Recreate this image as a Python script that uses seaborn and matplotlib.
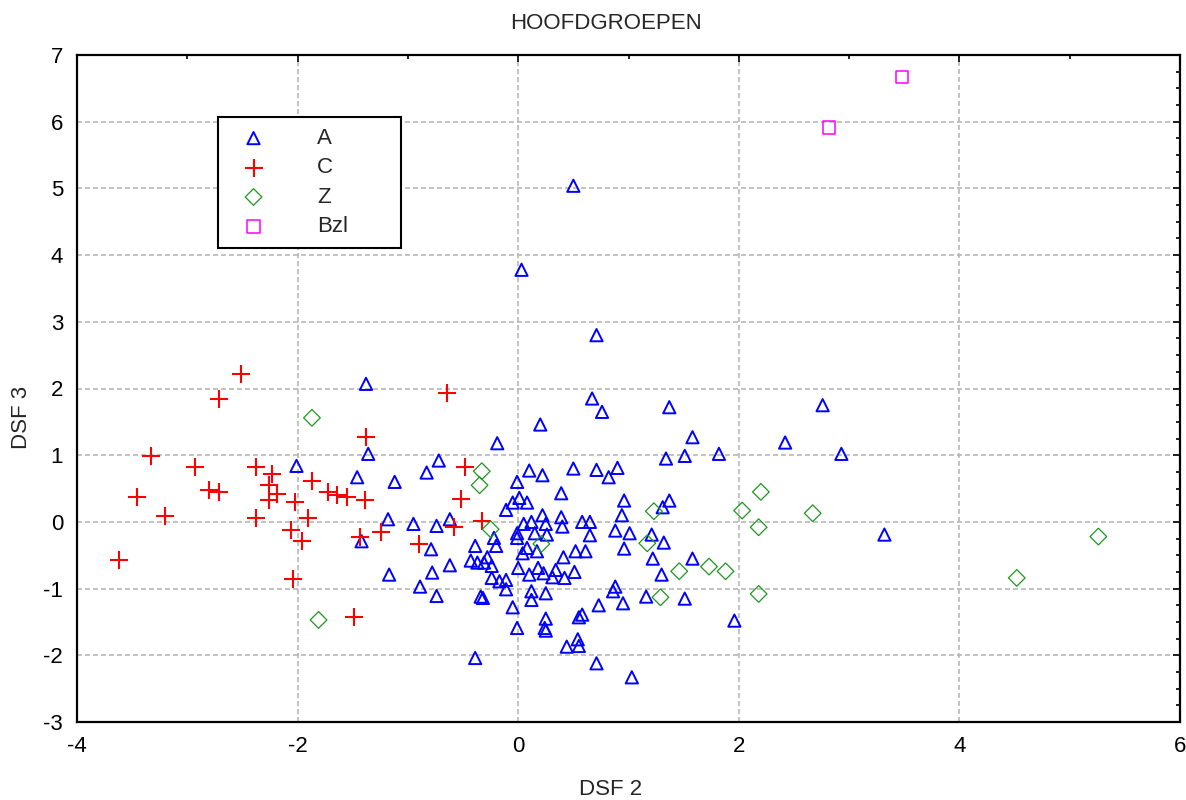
import matplotlib
matplotlib.use("Agg")
import matplotlib.pyplot as plt
from matplotlib.ticker import MultipleLocator
import seaborn as sns

# Group A (blue triangles)
a_x = [0.50, 0.03, 0.71, -1.38, 0.67, 0.76, 1.37, 2.76, 0.20, -0.19,
       1.58, 2.42, 2.93, 1.82, 1.51, 1.34, -1.36, -2.01, -1.46, -1.12,
       -0.72, -0.83, 0.90, 0.71, 0.50, 0.10, 0.22, 0.82, 0.96, 1.37,
       1.31, 0.39, -0.01, 3.32, 1.96, 0.94, 0.65, 0.88, 1.01, 0.65,
       1.21, 1.32, 0.96, 1.22, 1.58, 1.30, 0.88, 0.86, 0.73, 0.95,
       1.16, 1.51, 0.71, 1.03, 0.01, -0.05, 0.08, -0.11, 0.22, 0.39,
       0.12, 0.05, 0.25, 0.40, 0.58, -0.01, 0.15, 0.26, -0.01, -0.22,
       -0.20, -0.39, 0.08, 0.17, 0.04, -0.28, 0.41, 0.52, 0.61, -0.43,
       -0.37, -0.31, -0.24, 0.00, 0.18, 0.34, 0.51, 0.10, 0.23, 0.31,
       0.42, -0.24, -0.17, -0.11, -0.11, 0.12, 0.25, 0.12, -0.34, -0.32,
       -0.05, 0.58, 0.55, 0.25, 0.25, 0.24, -0.01, 0.54, 0.55, 0.44,
       -0.39, -1.18, -0.95, -0.74, -0.62, -1.42, -0.79, -0.62, -0.78, -1.17,
       -0.89, -0.74]
a_y = [5.04, 3.78, 2.80, 2.07, 1.85, 1.65, 1.72, 1.75, 1.46, 1.18,
       1.27, 1.19, 1.02, 1.02, 0.99, 0.95, 1.02, 0.84, 0.67, 0.60,
       0.92, 0.74, 0.81, 0.78, 0.80, 0.77, 0.70, 0.67, 0.32, 0.32,
       0.22, 0.43, 0.60, -0.19, -1.48, 0.10, 0.00, -0.13, -0.17, -0.20,
       -0.19, -0.31, -0.40, -0.55, -0.55, -0.79, -0.97, -1.04, -1.25, -1.22,
       -1.12, -1.15, -2.12, -2.33, 0.36, 0.29, 0.29, 0.18, 0.10, 0.07,
       0.00, -0.03, -0.03, -0.07, 0.00, -0.17, -0.17, -0.19, -0.24, -0.24,
       -0.36, -0.36, -0.39, -0.44, -0.47, -0.53, -0.53, -0.44, -0.44, -0.58,
       -0.61, -0.61, -0.66, -0.69, -0.69, -0.72, -0.75, -0.79, -0.77, -0.83,
       -0.84, -0.84, -0.89, -0.87, -1.01, -1.04, -1.07, -1.17, -1.12, -1.14,
       -1.28, -1.39, -1.43, -1.45, -1.63, -1.59, -1.59, -1.76, -1.86, -1.87,
       -2.04, 0.04, -0.03, -0.06, 0.04, -0.29, -0.41, -0.65, -0.76, -0.79,
       -0.97, -1.11]

# Group C (red crosses)
c_x = [-2.51, -2.71, -3.33, -2.93, -2.38, -2.23, -1.87, -2.26, -2.80, -2.71,
       -3.46, -2.19, -2.26, -2.02, -1.72, -1.64, -1.55, -3.20, -2.38, -1.91,
       -2.06, -1.96, -3.62, -2.04, -0.65, -1.38, -1.39, -0.48, -0.52, -0.33,
       -0.58, -1.24, -1.43, -0.90, -1.49]
c_y = [2.22, 1.84, 0.99, 0.82, 0.82, 0.72, 0.62, 0.56, 0.48, 0.45,
       0.38, 0.42, 0.33, 0.30, 0.45, 0.40, 0.38, 0.09, 0.06, 0.06,
       -0.12, -0.29, -0.57, -0.85, 1.94, 1.27, 0.33, 0.83, 0.34, 0.02,
       -0.08, -0.15, -0.22, -0.33, -1.43]

# Group Z (green diamonds)
z_x = [-1.87, -1.81, -0.33, -0.35, -0.25, 0.21, 1.23, 1.17, 1.46, 1.73,
       1.29, 1.88, 2.20, 2.03, 2.67, 2.18, 2.18, 4.52, 5.26]
z_y = [1.56, -1.47, 0.76, 0.55, -0.11, -0.33, 0.16, -0.32, -0.74, -0.67,
       -1.13, -0.74, 0.45, 0.17, 0.13, -0.08, -1.08, -0.84, -0.22]

# Group Bzl (magenta squares)
b_x = [3.48, 2.82]
b_y = [6.67, 5.91]

group_names = ["A", "C", "Z", "Bzl"]

sns.set_style("white")
plt.rcParams["font.family"] = ["Liberation Sans", "DejaVu Sans"]
plt.rcParams["axes.unicode_minus"] = False

fig = plt.figure(figsize=(11.86, 8.0), dpi=100)
ax = fig.add_axes([77 / 1186, 1 - 722 / 800, 1103 / 1186, 667 / 800])

styles = [
    (a_x, a_y, "^", "#0000ff", 78, 1.4),
    (c_x, c_y, "+", "#ff0000", 150, 1.5),
    (z_x, z_y, "D", "#1e961e", 72, 0.9),
    (b_x, b_y, "s", "#ff00ff", 80, 1.1),
]

for name, (xs, ys, marker, color, size, lw) in zip(group_names, styles):
    if marker == "+":
        sns.scatterplot(x=xs, y=ys, marker=marker, s=size, color=color,
                        linewidth=lw, label=name, ax=ax, zorder=3)
    else:
        sns.scatterplot(x=xs, y=ys, marker=marker, s=size, facecolor="none",
                        edgecolor=color, linewidth=lw, label=name, ax=ax, zorder=3)

ax.set_xlim(-4, 6)
ax.set_ylim(-3, 7)
ax.xaxis.set_major_locator(MultipleLocator(2))
ax.xaxis.set_minor_locator(MultipleLocator(1))
ax.yaxis.set_major_locator(MultipleLocator(1))
ax.yaxis.set_minor_locator(MultipleLocator(0.25))

ax.grid(True, which="major", color="#b8b8b8", linewidth=1.2, linestyle=(0, (3, 1.8)))
ax.set_axisbelow(True)

ax.tick_params(which="both", direction="in", top=True, right=True,
               colors="black", width=1.2, labelsize=16, pad=10)
ax.tick_params(which="major", length=5)
ax.tick_params(which="minor", length=3)

for sp in ax.spines.values():
    sp.set_visible(True)
    sp.set_color("black")
    sp.set_linewidth(1.6)

ax.set_title("HOOFDGROEPEN", fontsize=16, y=1.034, va="center")
ax.title.set_x(0.4796)

ax.set_xlabel("DSF 2", fontsize=16, va="center")
ax.set_ylabel("DSF 3", fontsize=16, va="center", ha="center")
ax.xaxis.set_label_coords(0.484, -0.1005)
ax.yaxis.set_label_coords(-0.0499, 0.456)

leg = ax.legend(loc="upper left", bbox_to_anchor=(0.1278, 0.7106, 0.1659, 0.1964),
                mode="expand", borderaxespad=0, fontsize=16, frameon=True,
                fancybox=False, framealpha=1, edgecolor="black",
                borderpad=0.49, labelspacing=0.38, handlelength=2.22,
                handletextpad=1.74, scatterpoints=1)
leg.get_frame().set_linewidth(1.5)

fig.savefig("out.png", dpi=100)
